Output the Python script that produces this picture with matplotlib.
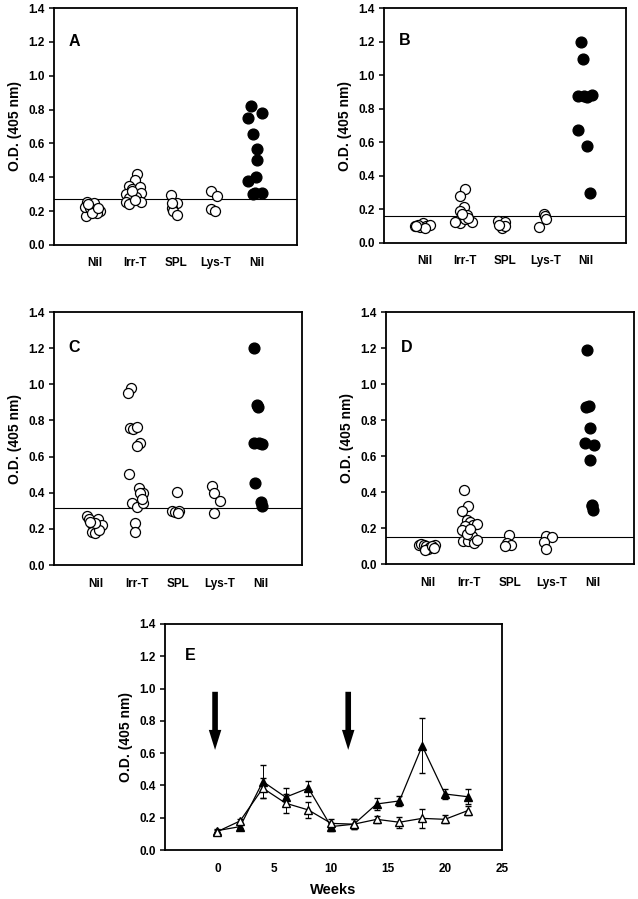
import numpy as np
import matplotlib
matplotlib.use("Agg")
import matplotlib.pyplot as plt

plt.rcParams['font.family'] = ['Liberation Sans', 'DejaVu Sans']
plt.rcParams['font.weight'] = 'bold'

groups = ['Nil', 'Irr-T', 'SPL', 'Lys-T', 'Nil']

# panel A
a_nil = [0.256, 0.250, 0.171, 0.223, 0.217, 0.203, 0.203, 0.187, 0.187, 0.243, 0.220]
a_nil_dx = [-0.18, 0.0, -0.21, -0.23, -0.11, 0.01, 0.14, 0.05, -0.07, -0.15, 0.09]
a_irr = [0.42, 0.385, 0.35, 0.33, 0.34, 0.305, 0.30, 0.276, 0.286, 0.256, 0.243, 0.256, 0.32, 0.266]
a_irr_dx = [0.04, 0.0, -0.14, -0.08, 0.12, 0.16, -0.21, -0.14, 0.02, -0.21, -0.14, 0.16, -0.08, 0.0]
a_spl = [0.296, 0.25, 0.217, 0.20, 0.178, 0.246]
a_spl_dx = [-0.12, 0.03, -0.09, -0.05, 0.03, -0.09]
a_lys = [0.32, 0.29, 0.21, 0.20]
a_lys_dx = [-0.13, 0.03, -0.13, -0.02]
a_pos = [0.82, 0.78, 0.75, 0.657, 0.568, 0.50, 0.404, 0.38, 0.306, 0.306, 0.30]
a_pos_dx = [-0.14, 0.13, -0.2, -0.08, 0.02, 0.02, -0.01, -0.2, -0.04, 0.13, -0.08]
a_cut = 0.272

# panel B
b_nil = [0.10, 0.094, 0.12, 0.104, 0.11, 0.11, 0.09, 0.104]
b_nil_dx = [-0.24, -0.11, -0.03, 0.05, 0.14, -0.16, 0.01, -0.2]
b_irr = [0.32, 0.28, 0.215, 0.19, 0.165, 0.13, 0.12, 0.125, 0.14, 0.15, 0.125, 0.17]
b_irr_dx = [0.01, -0.12, -0.02, -0.12, 0.05, -0.2, -0.12, 0.17, 0.01, 0.09, -0.24, -0.07]
b_spl = [0.13, 0.125, 0.09, 0.10, 0.11]
b_spl_dx = [-0.17, 0.0, -0.08, 0.0, -0.14]
b_lys = [0.17, 0.16, 0.14, 0.094]
b_lys_dx = [-0.03, -0.01, 0.03, -0.15]
b_pos = [1.195, 1.096, 0.876, 0.876, 0.872, 0.88, 0.673, 0.58, 0.30]
b_pos_dx = [-0.12, -0.07, -0.19, -0.05, 0.03, 0.16, -0.19, 0.03, 0.12]
b_cut = 0.16

# panel C
c_nil = [0.273, 0.253, 0.225, 0.203, 0.18, 0.175, 0.253, 0.216, 0.22, 0.194, 0.23, 0.24]
c_nil_dx = [-0.19, -0.15, -0.09, -0.03, -0.09, -0.01, 0.07, 0.11, 0.15, 0.09, -0.01, -0.14]
c_irr = [0.979, 0.951, 0.757, 0.754, 0.766, 0.678, 0.656, 0.504, 0.428, 0.40, 0.397,
         0.345, 0.323, 0.342, 0.23, 0.18, 0.364]
c_irr_dx = [-0.14, -0.2, -0.15, -0.08, 0.0, 0.08, 0.0, -0.19, 0.06, 0.16, 0.08,
            -0.11, 0.0, 0.16, -0.04, -0.04, 0.12]
c_spl = [0.405, 0.30, 0.292, 0.30, 0.286]
c_spl_dx = [-0.03, -0.14, -0.07, 0.02, 0.01]
c_lys = [0.44, 0.397, 0.355, 0.29]
c_lys_dx = [-0.18, -0.13, 0.02, -0.13]
c_pos = [1.20, 0.887, 0.874, 0.678, 0.674, 0.67, 0.452, 0.347, 0.329]
c_pos_dx = [-0.17, -0.09, -0.07, -0.17, -0.05, 0.03, -0.13, 0.01, 0.03]
c_cut = 0.314

# panel D
d_nil = [0.107, 0.111, 0.104, 0.098, 0.085, 0.093, 0.08, 0.104, 0.098, 0.089]
d_nil_dx = [-0.2, -0.15, -0.09, -0.03, 0.01, 0.07, -0.05, 0.19, 0.11, 0.15]
d_irr = [0.413, 0.32, 0.296, 0.246, 0.231, 0.218, 0.224, 0.209, 0.19, 0.126, 0.13,
         0.154, 0.117, 0.135, 0.169, 0.194]
d_irr_dx = [-0.11, -0.01, -0.17, -0.05, 0.03, 0.11, 0.2, -0.09, -0.17, -0.13, -0.01,
            0.07, 0.13, 0.2, -0.05, 0.03]
d_spl = [0.159, 0.117, 0.107, 0.102]
d_spl_dx = [-0.02, -0.08, 0.02, -0.12]
d_lys = [0.154, 0.148, 0.122, 0.083]
d_lys_dx = [-0.12, 0.02, -0.18, -0.13]
d_pos = [1.19, 0.87, 0.88, 0.755, 0.672, 0.663, 0.58, 0.33, 0.30, 0.32]
d_pos_dx = [-0.15, -0.17, -0.09, -0.07, -0.19, 0.03, -0.07, -0.01, 0.01, -0.03]
d_cut = 0.15

# panel E
weeks = [0, 2, 4, 6, 8, 10, 12, 14, 16, 18, 20, 22]
e_filled = [0.12, 0.145, 0.424, 0.327, 0.383, 0.145, 0.16, 0.285, 0.304, 0.645, 0.347, 0.33]
e_filled_err = [0.01, 0.01, 0.10, 0.055, 0.047, 0.025, 0.03, 0.035, 0.03, 0.17, 0.03, 0.045]
e_open = [0.114, 0.18, 0.383, 0.29, 0.248, 0.165, 0.16, 0.19, 0.172, 0.196, 0.19, 0.244]
e_open_err = [0.01, 0.015, 0.06, 0.06, 0.05, 0.03, 0.03, 0.02, 0.033, 0.06, 0.025, 0.03]
arrow_weeks = [-0.2, 11.5]

fig = plt.figure(figsize=(6.38, 8.99), dpi=100)

yt = np.arange(0, 1.41, 0.2)
ytl = ['%.1f' % v for v in yt]


def style_axes(ax, letter):
    ax.set_ylim(0, 1.4)
    ax.set_yticks(yt)
    ax.set_yticklabels(ytl, fontsize=8.5)
    ax.tick_params(axis='y', length=3.5, width=1.1, pad=3)
    ax.set_ylabel('O.D. (405 nm)', fontsize=10, fontweight='bold', labelpad=5)
    for s in ax.spines.values():
        s.set_linewidth(1.3)
    ax.text(0.06, 0.86, letter, transform=ax.transAxes, fontsize=11.5,
            fontweight='bold', va='center')


def scatter_panel(rect, letter, data, cut):
    ax = fig.add_axes(rect)
    for i, (vals, dx) in enumerate(data):
        x = (i + 1) + np.array(dx)
        if i == 4:
            ax.scatter(x, vals, s=60, c='black', edgecolors='black', zorder=3)
        else:
            ax.scatter(x, vals, s=52, facecolors='white', edgecolors='black',
                       linewidths=0.9, zorder=3)
    ax.axhline(cut, color='black', lw=0.8)
    ax.set_xlim(0, 6)
    ax.set_xticks([1, 2, 3, 4, 5])
    ax.set_xticklabels(groups, fontsize=8.5)
    ax.tick_params(axis='x', length=0, pad=9)
    style_axes(ax, letter)
    return ax


scatter_panel([0.0846, 0.7275, 0.381, 0.2636], 'A',
              [(a_nil, a_nil_dx), (a_irr, a_irr_dx), (a_spl, a_spl_dx),
               (a_lys, a_lys_dx), (a_pos, a_pos_dx)], a_cut)
scatter_panel([0.602, 0.7297, 0.379, 0.2614], 'B',
              [(b_nil, b_nil_dx), (b_irr, b_irr_dx), (b_spl, b_spl_dx),
               (b_lys, b_lys_dx), (b_pos, b_pos_dx)], b_cut)
scatter_panel([0.0846, 0.3715, 0.389, 0.2814], 'C',
              [(c_nil, c_nil_dx), (c_irr, c_irr_dx), (c_spl, c_spl_dx),
               (c_lys, c_lys_dx), (c_pos, c_pos_dx)], c_cut)
scatter_panel([0.605, 0.3726, 0.389, 0.2803], 'D',
              [(d_nil, d_nil_dx), (d_irr, d_irr_dx), (d_spl, d_spl_dx),
               (d_lys, d_lys_dx), (d_pos, d_pos_dx)], d_cut)

# panel E
ax = fig.add_axes([0.2586, 0.0545, 0.528, 0.2514])
ax.errorbar(weeks, e_filled, yerr=e_filled_err, color='black', lw=0.9,
            marker='^', ms=6, mfc='black', mec='black', capsize=2.5,
            elinewidth=0.7, zorder=3)
ax.errorbar(weeks, e_open, yerr=e_open_err, color='black', lw=0.9,
            marker='^', ms=6, mfc='white', mec='black', capsize=2.5,
            elinewidth=0.7, zorder=4)
for w in arrow_weeks:
    ax.annotate('', xy=(w, 0.62), xytext=(w, 0.98),
                arrowprops=dict(arrowstyle='simple,head_length=1.6,head_width=1.0,tail_width=0.45',
                                mutation_scale=9, fc='black', ec='black', lw=0,
                                shrinkA=0, shrinkB=0))
ax.set_xlim(-4.6, 25)
ax.set_xticks([0, 5, 10, 15, 20, 25])
ax.set_xticklabels(['0', '5', '10', '15', '20', '25'], fontsize=8.5)
ax.tick_params(axis='x', length=0, pad=9)
ax.set_xlabel('Weeks', fontsize=10.5, fontweight='bold', labelpad=6)
style_axes(ax, 'E')

fig.savefig('out.png', dpi=100)
